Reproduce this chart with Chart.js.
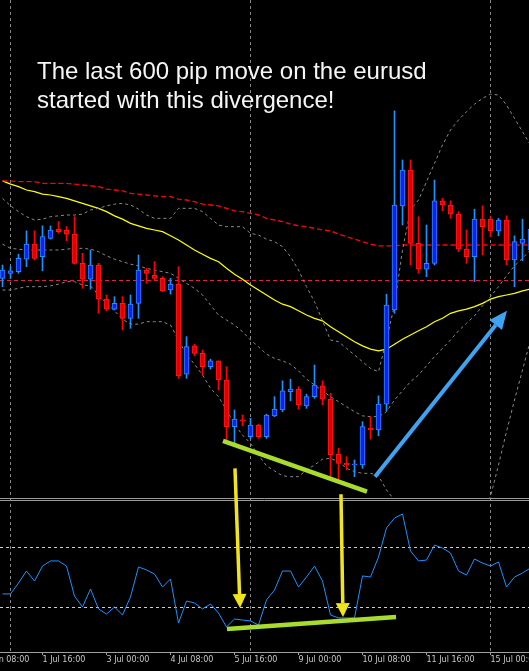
<!DOCTYPE html>
<html>
<head>
<meta charset="utf-8">
<script src="https://cdn.jsdelivr.net/npm/chart.js@4.4.1/dist/chart.umd.min.js"></script>
<style>
html,body{margin:0;padding:0;background:#000;overflow:hidden;}
canvas{display:block;background:#000;}
</style>
</head>
<body>
<canvas id="chart" width="529" height="671"></canvas>
<script>
// EURUSD H4, 4h candles, index 0 = first candle on the left
var opens  = [1.2996,1.3002,1.3004,1.3019,1.3037,1.3022,1.3044,1.3055,1.3054,1.3049,
              1.3014,1.2995,1.3012,1.2971,1.2959,1.2966,1.2948,1.2966,1.3006,1.3000,
              1.2996,1.2982,1.2989,1.2881,1.2915,1.2906,1.2890,1.2897,1.2874,1.2818,
              1.2826,1.2806,1.2820,1.2806,1.2831,1.2838,1.2860,1.2863,1.2843,1.2854,
              1.2867,1.2851,1.2785,1.2774,1.2772,1.2772,1.2816,1.2814,1.2845,1.2958,
              1.3083,1.3126,1.3038,1.3007,1.3014,1.3089,1.3084,1.3073,1.3031,1.3022,
              1.3067,1.3067,1.3053,1.3066,1.3018,1.3038,1.3030];
var highs  = [1.3012,1.3010,1.3025,1.3053,1.3053,1.3059,1.3059,1.3064,1.3058,1.3070,
              1.3026,1.3030,1.3014,1.2976,1.2974,1.2974,1.2976,1.3024,1.3008,1.3016,
              1.2998,1.2996,1.3010,1.2926,1.2917,1.2910,1.2899,1.2897,1.2890,1.2838,
              1.2832,1.2828,1.2821,1.2833,1.2854,1.2873,1.2875,1.2866,1.2857,1.2892,
              1.2873,1.2858,1.2792,1.2782,1.2778,1.2824,1.2830,1.2855,1.2977,1.3197,
              1.3138,1.3138,1.3070,1.3060,1.3114,1.3092,1.3089,1.3076,1.3054,1.3079,
              1.3083,1.3070,1.3068,1.3071,1.3047,1.3067,1.3072];
var lows   = [1.2986,1.2996,1.3002,1.3010,1.3018,1.3005,1.3043,1.3050,1.3041,1.3013,
              1.2984,1.2983,1.2954,1.2957,1.2958,1.2934,1.2936,1.2948,1.2990,1.2993,
              1.2980,1.2977,1.2876,1.2876,1.2903,1.2880,1.2887,1.2862,1.2800,1.2798,
              1.2819,1.2804,1.2804,1.2804,1.2830,1.2836,1.2849,1.2839,1.2840,1.2852,
              1.2844,1.2755,1.2750,1.2766,1.2758,1.2768,1.2803,1.2807,1.2837,1.2954,
              1.3060,1.3012,1.3002,1.2998,1.3012,1.3077,1.3068,1.3028,1.3014,1.2992,
              1.3024,1.3046,1.3047,1.3012,1.2986,1.3017,1.3016];
var closes = [1.3006,1.3005,1.3020,1.3037,1.3020,1.3046,1.3054,1.3052,1.3049,1.3014,
              1.2995,1.3012,1.2971,1.2959,1.2966,1.2948,1.2965,1.3006,1.3002,1.2996,
              1.2981,1.2989,1.2879,1.2914,1.2906,1.2890,1.2897,1.2874,1.2818,1.2827,
              1.2825,1.2820,1.2806,1.2832,1.2839,1.2861,1.2863,1.2844,1.2854,1.2868,
              1.2851,1.2784,1.2774,1.2772,1.2773,1.2818,1.2814,1.2845,1.2964,1.3084,
              1.3126,1.3038,1.3007,1.3014,1.3089,1.3084,1.3073,1.3031,1.3022,1.3067,
              1.3058,1.3053,1.3066,1.3018,1.3040,1.3043,1.3055];

// bollinger bands
var bbUpper = [1.3092,1.3083,1.3076,1.3070,1.3066,1.3067,1.3070,1.3071,1.3072,1.3072,
               1.3073,1.3078,1.3080,1.3083,1.3085,1.3086,1.3084,1.3079,1.3072,1.3068,
               1.3068,1.3068,1.3080,1.3080,1.3080,1.3076,1.3068,1.3060,1.3058,1.3058,
               1.3058,1.3050,1.3048,1.3043,1.3040,1.3034,1.3022,1.3006,1.2986,1.2968,
               1.2945,1.2922,1.2920,1.2912,1.2904,1.2896,1.2888,1.2884,1.2922,1.2964,
               1.3030,1.3078,1.3090,1.3112,1.3134,1.3156,1.3174,1.3186,1.3196,1.3205,
               1.3212,1.3217,1.3216,1.3204,1.3188,1.3172,1.3156];
var bbMid   = [1.3037,1.3032,1.3031,1.3030,1.3030,1.3030,1.3030,1.3030,1.3031,1.3032,
               1.3032,1.3031,1.3028,1.3023,1.3019,1.3016,1.3013,1.3011,1.3008,1.3006,
               1.3004,1.3002,1.2996,1.2990,1.2984,1.2976,1.2964,1.2952,1.2946,1.2940,
               1.2932,1.2922,1.2914,1.2905,1.2900,1.2897,1.2893,1.2885,1.2875,1.2868,
               1.2861,1.2854,1.2848,1.2842,1.2836,1.2831,1.2830,1.2830,1.2836,1.2850,
               1.2861,1.2872,1.2880,1.2891,1.2902,1.2912,1.2922,1.2933,1.2942,1.2951,
               1.2963,1.2974,1.2986,1.2999,1.3011,1.3020,1.3030];
var bbLower = [1.2982,1.2982,1.2984,1.2986,1.2986,1.2986,1.2987,1.2989,1.2992,1.2992,
               1.2988,1.2987,1.2976,1.2966,1.2957,1.2947,1.2941,1.2941,1.2944,1.2944,
               1.2944,1.2940,1.2922,1.2904,1.2893,1.2880,1.2864,1.2854,1.2838,1.2821,
               1.2808,1.2798,1.2784,1.2771,1.2765,1.2759,1.2758,1.2758,1.2766,1.2772,
               1.2779,1.2780,1.2776,1.2768,1.2764,1.2762,1.2762,1.2759,1.2742,1.2730,
               1.2694,1.2670,1.2664,1.2660,1.2660,1.2664,1.2670,1.2680,1.2689,1.2700,
               1.2716,1.2734,1.2772,1.2812,1.2850,1.2886,1.2922];

// moving averages
var maRed    = [1.3113,1.3113,1.3112,1.3112,1.3112,1.3110,1.3110,1.3110,1.3110,1.3109,
                1.3108,1.3107,1.3106,1.3103,1.3102,1.3101,1.3098,1.3097,1.3096,1.3095,
                1.3094,1.3094,1.3091,1.3090,1.3088,1.3085,1.3084,1.3083,1.3080,1.3077,
                1.3076,1.3074,1.3072,1.3068,1.3066,1.3064,1.3061,1.3059,1.3058,1.3056,
                1.3054,1.3053,1.3049,1.3046,1.3043,1.3040,1.3037,1.3035,1.3035,1.3035,
                1.3036,1.3036,1.3036,1.3036,1.3036,1.3036,1.3036,1.3036,1.3036,1.3036,
                1.3036,1.3036,1.3036,1.3036,1.3036,1.3036,1.3036];
var maYellow = [1.3113,1.3109,1.3106,1.3102,1.3100,1.3097,1.3096,1.3094,1.3092,1.3089,
                1.3086,1.3083,1.3080,1.3076,1.3071,1.3067,1.3062,1.3059,1.3056,1.3054,
                1.3052,1.3047,1.3042,1.3036,1.3030,1.3025,1.3020,1.3016,1.3008,1.3001,
                1.2995,1.2988,1.2982,1.2976,1.2970,1.2965,1.2962,1.2957,1.2952,1.2948,
                1.2945,1.2938,1.2932,1.2926,1.2920,1.2915,1.2911,1.2909,1.2911,1.2917,
                1.2923,1.2928,1.2933,1.2938,1.2944,1.2948,1.2954,1.2957,1.2959,1.2962,
                1.2966,1.2971,1.2974,1.2976,1.2978,1.2981,1.2983];
var levelPrice = 1.2993;

// RSI in the lower window
var rsi = [38.7,38.7,46.0,54.0,47.3,57.3,60.7,60.7,57.3,37.3,
           30.0,42.0,28.7,25.3,30.0,24.7,36.7,56.7,54.7,52.0,
           43.3,48.7,19.3,34.0,32.7,28.7,32.0,26.0,16.7,22.0,
           21.3,20.7,18.0,34.7,41.3,54.0,54.0,43.3,50.0,57.3,
           47.3,24.7,22.7,22.7,22.7,50.7,50.0,63.3,82.7,89.3,
           92.0,67.3,60.7,61.3,71.3,69.3,66.0,54.0,51.3,62.0,
           59.3,57.3,60.0,43.3,50.0,52.7,56.0];
var rsiLevels = [70, 30];

// time axis
var tickIdx    = [-3, 5, 13, 21, 29, 37, 45, 53, 61];
var tickLabels = ['30 Jun 08:00','1 Jul 16:00','3 Jul 00:00','4 Jul 08:00','5 Jul 16:00',
                  '9 Jul 00:00','10 Jul 08:00','11 Jul 16:00','15 Jul 00:00'];
var gridIdx = [1, 31, 61];

// drawings on the chart (candle index, value)
var noteLines = [
  {axis:'y', from:[27.56, 1.2801], to:[45.56, 1.2740]},
  {axis:'yr', from:[28.06, 15.3],  to:[49.19, 23.3]}
];
var noteArrows = [
  {from:['y', 29.06, 1.2768], to:['yr', 29.69, 29.3], color:'#f2e41c', w:3.5, len:14, half:7},
  {from:['y', 42.31, 1.2737], to:['yr', 42.56, 23.3], color:'#f2e41c', w:3.5, len:14, half:7},
  {from:['y', 46.56, 1.2758], to:['y', 63.06, 1.2957], color:'#3fa3f2', w:4, len:18, half:8}
];
var noteText = ['The last 600 pip move on the eurusd', 'started with this divergence!'];

function pts(arr){ return arr.map(function(v,i){ return {x:i, y:v}; }); }
var bull = closes.map(function(c,i){ return c >= opens[i]; });

function lineSet(arr, color, w, dash, ord){
  return {type:'line', data:pts(arr), borderColor:color, borderWidth:w, borderDash:dash,
          pointRadius:0, fill:false, tension:0, yAxisID:'y', order:ord};
}

var overlay = {
  id:'overlay',
  beforeDatasetsDraw: function(chart){
    var ctx = chart.ctx, a = chart.chartArea;
    var x = chart.scales.x, y = chart.scales.y, r = chart.scales.yr;
    ctx.save();
    ctx.lineWidth = 1;
    ctx.setLineDash([3,3]);
    ctx.strokeStyle = '#858585';
    gridIdx.forEach(function(i){
      var px = Math.floor(x.getPixelForValue(i)) + 0.5;
      ctx.beginPath(); ctx.moveTo(px, a.top); ctx.lineTo(px, a.bottom); ctx.stroke();
    });
    ctx.strokeStyle = '#cfcfcf';
    rsiLevels.forEach(function(v){
      var py = Math.floor(r.getPixelForValue(v)) + 0.5;
      ctx.beginPath(); ctx.moveTo(a.left, py); ctx.lineTo(a.right, py); ctx.stroke();
    });
    ctx.setLineDash([4,3]);
    ctx.strokeStyle = '#e0204a';
    var ly = Math.floor(y.getPixelForValue(levelPrice)) + 0.5;
    ctx.beginPath(); ctx.moveTo(a.left, ly); ctx.lineTo(a.right, ly); ctx.stroke();
    ctx.restore();
  },
  afterDatasetsDraw: function(chart){
    var ctx = chart.ctx, a = chart.chartArea;
    var x = chart.scales.x, y = chart.scales.y;
    ctx.save();
    // window separator
    ctx.strokeStyle = '#9a9a9a';
    ctx.lineWidth = 1;
    var sy = Math.round(y.bottom);
    [sy + 0.5, sy + 2.5].forEach(function(py){
      ctx.beginPath(); ctx.moveTo(a.left, py); ctx.lineTo(a.right, py); ctx.stroke();
    });
    // divergence lines
    ctx.strokeStyle = '#a9dc2c';
    ctx.lineWidth = 4.5;
    noteLines.forEach(function(n){
      var s = chart.scales[n.axis];
      ctx.beginPath();
      ctx.moveTo(x.getPixelForValue(n.from[0]), s.getPixelForValue(n.from[1]));
      ctx.lineTo(x.getPixelForValue(n.to[0]), s.getPixelForValue(n.to[1]));
      ctx.stroke();
    });
    // arrows
    noteArrows.forEach(function(n){
      var x1 = x.getPixelForValue(n.from[1]), y1 = chart.scales[n.from[0]].getPixelForValue(n.from[2]);
      var x2 = x.getPixelForValue(n.to[1]), y2 = chart.scales[n.to[0]].getPixelForValue(n.to[2]);
      var ang = Math.atan2(y2 - y1, x2 - x1);
      var bx = x2 - n.len * Math.cos(ang), by = y2 - n.len * Math.sin(ang);
      ctx.strokeStyle = n.color; ctx.fillStyle = n.color;
      ctx.lineWidth = n.w;
      ctx.beginPath(); ctx.moveTo(x1, y1); ctx.lineTo(bx, by); ctx.stroke();
      ctx.beginPath();
      ctx.moveTo(x2, y2);
      ctx.lineTo(bx + n.half * Math.sin(ang), by - n.half * Math.cos(ang));
      ctx.lineTo(bx - n.half * Math.sin(ang), by + n.half * Math.cos(ang));
      ctx.closePath(); ctx.fill();
    });
    ctx.restore();
  },
  afterDraw: function(chart){
    var ctx = chart.ctx;
    ctx.save();
    ctx.fillStyle = '#f6f6f6';
    ctx.font = '24px "Liberation Sans", Arial, sans-serif';
    ctx.textBaseline = 'alphabetic';
    ctx.fillText(noteText[0], 37, 79);
    ctx.fillText(noteText[1], 37, 108);
    ctx.restore();
  }
};

new Chart(document.getElementById('chart'), {
  type:'bar',
  data:{
    datasets:[
      {type:'bar', data:opens.map(function(o,i){ return {x:i, y:[o, closes[i]]}; }),
       backgroundColor:bull.map(function(b){ return b ? '#1c1cf2' : '#e00000'; }),
       borderColor:bull.map(function(b){ return b ? '#1e90ff' : '#ff1a1a'; }),
       borderWidth:1, borderSkipped:false, barThickness:5, minBarLength:1,
       grouped:false, yAxisID:'y', order:0},
      {type:'bar', data:highs.map(function(h,i){ return {x:i, y:[lows[i], h]}; }),
       backgroundColor:bull.map(function(b){ return b ? '#1e90ff' : '#ff0000'; }),
       borderWidth:0, barThickness:1, grouped:false, yAxisID:'y', order:1},
      lineSet(bbUpper, '#8a8a8a', 1, [3,3], 2),
      lineSet(bbMid, '#8a8a8a', 1, [3,3], 2),
      lineSet(bbLower, '#8a8a8a', 1, [3,3], 2),
      lineSet(maRed, '#ff0000', 1.4, [5,3], 2),
      lineSet(maYellow, '#ffff00', 1.2, [], 2),
      {type:'line', data:pts(rsi), borderColor:'#1e90ff', borderWidth:1, pointRadius:0,
       fill:false, tension:0, yAxisID:'yr', order:2}
    ]
  },
  options:{
    responsive:false,
    animation:false,
    events:[],
    layout:{padding:0},
    plugins:{legend:{display:false}, tooltip:{enabled:false}, title:{display:false}},
    scales:{
      x:{type:'linear', min:-0.3125, max:65.8125, bounds:'data', offset:false, position:'bottom',
         afterFit:function(s){ s.height = 19; s.paddingLeft = 0; s.paddingRight = 0; },
         afterBuildTicks:function(s){ s.ticks = tickIdx.map(function(v){ return {value:v}; }); },
         ticks:{autoSkip:false, maxRotation:0, align:'start', padding:0, color:'#c8c8c8',
                font:{family:'DejaVu Sans', size:8},
                callback:function(v){ var k = tickIdx.indexOf(v); return k < 0 ? '' : tickLabels[k]; }},
         grid:{offset:false, drawOnChartArea:false, drawTicks:true, tickLength:3, color:'#a0a0a0'},
         border:{display:true, color:'#a0a0a0'}},
      y:{type:'linear', axis:'y', min:1.27324, max:1.3330, display:false, position:'left',
         stack:'panes', stackWeight:498, weight:2},
      yr:{type:'linear', axis:'y', min:0, max:102.667, display:false, position:'left',
         stack:'panes', stackWeight:154, weight:1}
    }
  },
  plugins:[overlay]
});
</script>
</body>
</html>
